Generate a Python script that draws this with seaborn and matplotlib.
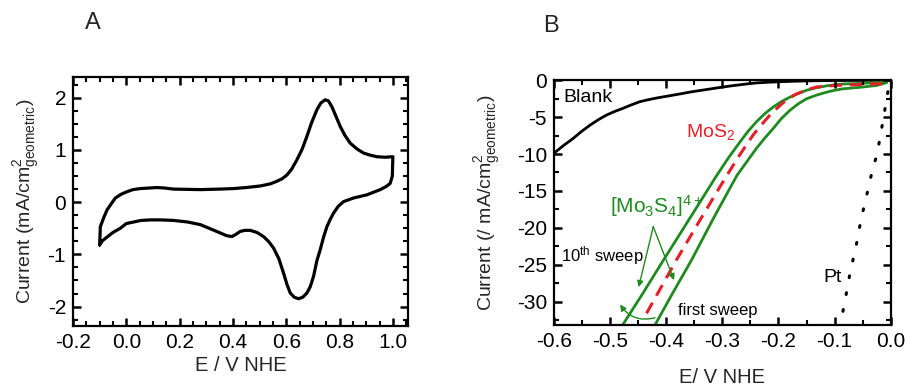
import matplotlib
matplotlib.use("Agg")
import matplotlib.pyplot as plt
import seaborn as sns
from matplotlib.ticker import MultipleLocator

# panel A: cyclic voltammogram (anodic branch, then cathodic branch)
cv_up_e = [-0.1, -0.0975, -0.085, -0.0725, -0.055, -0.041, -0.02, 0.0025, 0.025, 0.0525, 0.085, 0.115,
           0.145, 0.1775, 0.2775, 0.35, 0.4025, 0.45, 0.5025, 0.54, 0.565, 0.585, 0.6025, 0.62, 0.64,
           0.66, 0.6775, 0.695, 0.715, 0.73, 0.746, 0.758, 0.771, 0.786, 0.8025, 0.82, 0.84, 0.865,
           0.89, 0.915, 0.94, 0.97, 1.0]
cv_up_i = [-0.82, -0.47, -0.3, -0.15, -0.02, 0.08, 0.15, 0.20, 0.24, 0.26, 0.27, 0.28,
           0.27, 0.25, 0.24, 0.25, 0.26, 0.28, 0.31, 0.35, 0.40, 0.45, 0.52, 0.63, 0.81,
           1.02, 1.26, 1.52, 1.77, 1.90, 1.96, 1.94, 1.83, 1.65, 1.45, 1.28, 1.13, 1.02,
           0.94, 0.90, 0.87, 0.86, 0.87]
cv_down_e = [1.0, 0.998, 0.99, 0.975, 0.9525, 0.9025, 0.8525, 0.815, 0.795, 0.7775, 0.765, 0.7525,
             0.74, 0.7275, 0.715, 0.7025, 0.69, 0.6775, 0.662, 0.646, 0.63, 0.615, 0.603, 0.59,
             0.572, 0.5525, 0.535, 0.515, 0.49, 0.465, 0.445, 0.4275, 0.41, 0.396, 0.375, 0.3525,
             0.32, 0.2775, 0.23, 0.1775, 0.13, 0.09, 0.055, 0.0275, 0.0, -0.0225, -0.05, -0.0725,
             -0.09, -0.1]
cv_down_i = [0.87, 0.50, 0.36, 0.30, 0.24, 0.14, 0.08, 0.01, -0.08, -0.21, -0.33, -0.47,
             -0.67, -0.91, -1.12, -1.42, -1.62, -1.74, -1.82, -1.85, -1.82, -1.74, -1.58, -1.36,
             -1.08, -0.88, -0.76, -0.66, -0.58, -0.54, -0.54, -0.56, -0.62, -0.66, -0.64, -0.59,
             -0.52, -0.43, -0.38, -0.35, -0.34, -0.34, -0.35, -0.38, -0.41, -0.50, -0.58, -0.67,
             -0.74, -0.82]

# panel B: polarisation curves
blank_e = [-0.6, -0.583, -0.566, -0.551, -0.536, -0.521, -0.506, -0.491, -0.477, -0.462, -0.447,
           -0.432, -0.417, -0.402, -0.387, -0.372, -0.358, -0.343, -0.328, -0.313, -0.298,
           -0.283, -0.268, -0.254, -0.239, -0.22, -0.2, -0.175, -0.15, -0.125, -0.1, -0.05, 0.0]
blank_i = [-9.9, -8.85, -7.9, -6.95, -6.1, -5.35, -4.7, -4.2, -3.8, -3.33, -2.9,
           -2.63, -2.4, -2.2, -2.0, -1.8, -1.6, -1.42, -1.25, -1.07, -0.9,
           -0.74, -0.6, -0.47, -0.35, -0.27, -0.2, -0.13, -0.08, -0.05, -0.03, -0.01, 0.0]

sweep10_e = [-0.481, -0.44, -0.405, -0.357, -0.310, -0.289, -0.268, -0.254, -0.239, -0.224, -0.209,
             -0.195, -0.180, -0.165, -0.150, -0.132, -0.114, -0.1, -0.085, -0.055, -0.025, -0.007]
sweep10_i = [-33.6, -28.7, -24.4, -18.6, -12.9, -10.5, -8.3, -6.9, -5.6, -4.5, -3.6,
             -2.9, -2.3, -1.8, -1.35, -1.0, -0.75, -0.6, -0.5, -0.42, -0.3, -0.2]

sweep1_e = [-0.423, -0.388, -0.355, -0.315, -0.274, -0.256, -0.239, -0.224, -0.209, -0.195,
            -0.180, -0.165, -0.150, -0.132, -0.114, -0.1, -0.085, -0.055, -0.025, -0.007]
sweep1_i = [-33.6, -28.8, -24.4, -18.6, -12.9, -11.0, -9.2, -7.8, -6.5, -5.2,
            -4.1, -3.2, -2.5, -2.0, -1.6, -1.35, -1.15, -0.95, -0.7, -0.3]

mos2_e = [-0.435, -0.41, -0.382, -0.337, -0.292, -0.268, -0.245, -0.23, -0.215, -0.2, -0.185,
          -0.168, -0.150, -0.132, -0.1, -0.05, -0.014]
mos2_i = [-31.6, -28.2, -24.4, -18.6, -12.9, -10.0, -7.4, -6.0, -4.7, -3.6, -2.6,
          -1.85, -1.3, -0.9, -0.7, -0.55, -0.45]

pt_e = [-0.091, -0.081, -0.072, -0.062, -0.053, -0.042, -0.033, -0.024, -0.015, -0.006, -0.003]
pt_i = [-33.6, -29.7, -25.9, -22.6, -18.9, -15.3, -12.3, -9.9, -6.0, -2.0, -0.5]

green = "#1f8a1f"
red = "#e6202a"

sns.set_style("ticks")
plt.rcParams['font.family'] = ['Liberation Sans', 'DejaVu Sans']
plt.rcParams['mathtext.fontset'] = 'custom'
plt.rcParams['mathtext.rm'] = 'Liberation Sans'
plt.rcParams['mathtext.it'] = 'Liberation Sans:italic'
plt.rcParams['mathtext.bf'] = 'Liberation Sans:bold'
plt.rcParams['mathtext.default'] = 'regular'
plt.rcParams['axes.axisbelow'] = False
for k in ("xtick", "ytick"):
    plt.rcParams[k + ".direction"] = "in"
    plt.rcParams[k + ".color"] = "black"
    plt.rcParams[k + ".major.size"] = 6
    plt.rcParams[k + ".major.width"] = 1.8
    plt.rcParams[k + ".minor.size"] = 3.5
    plt.rcParams[k + ".minor.width"] = 1.5
    plt.rcParams[k + ".labelsize"] = 15
    plt.rcParams[k + ".major.pad"] = 5
plt.rcParams["xtick.top"] = True
plt.rcParams["ytick.right"] = True

fig = plt.figure(figsize=(9.08, 3.88), dpi=100)
axA = fig.add_axes([0.0804, 0.160, 0.369, 0.642])
axB = fig.add_axes([0.610, 0.162, 0.371, 0.631])


def style_axes(ax, xminor, yminor):
    ax.xaxis.set_minor_locator(MultipleLocator(xminor))
    ax.yaxis.set_minor_locator(MultipleLocator(yminor))
    for s in ax.spines.values():
        s.set_linewidth(1.6)
        s.set_color("black")
    ax.tick_params(which="both", direction="in", top=True, right=True)


# --- panel A
cv_e = cv_up_e + cv_down_e
cv_i = cv_up_i + cv_down_i
sns.lineplot(x=cv_e, y=cv_i, sort=False, estimator=None, color="black", lw=2.3, ax=axA)
axA.set_xlim(-0.2, 1.057)
axA.set_ylim(-2.37, 2.4)
axA.set_xticks([-0.2, 0.0, 0.2, 0.4, 0.6, 0.8, 1.0])
axA.set_xticklabels(["-0.2", "0.0", "0.2", "0.4", "0.6", "0.8", "1.0"])
axA.set_yticks([-2, -1, 0, 1, 2])
axA.set_yticklabels(["-2", "-1", "0", "1", "2"])
axA.set_xlabel("E / V NHE", fontsize=14.5, labelpad=3)
axA.set_ylabel("Current (mA/cm$^2_{geometric}$)", fontsize=14, labelpad=4)
style_axes(axA, 0.05, 0.25)

# --- panel B
sns.lineplot(x=blank_e, y=blank_i, sort=False, estimator=None, color="black", lw=2.0, ax=axB)
sns.lineplot(x=sweep10_e, y=sweep10_i, sort=False, estimator=None, color=green, lw=2.0, ax=axB)
sns.lineplot(x=sweep1_e, y=sweep1_i, sort=False, estimator=None, color=green, lw=2.0, ax=axB)
sns.lineplot(x=mos2_e, y=mos2_i, sort=False, estimator=None, color=red, lw=2.2, ax=axB)
axB.lines[-1].set_dashes([4, 2.6])
sns.lineplot(x=pt_e, y=pt_i, sort=False, estimator=None, color="black", lw=2.2, ax=axB)
axB.lines[-1].set_dashes([0.6, 5])
axB.lines[-1].set_dash_capstyle("round")

axB.set_xlim(-0.6, 0.0)
axB.set_ylim(-33.2, 0)
axB.set_xticks([-0.6, -0.5, -0.4, -0.3, -0.2, -0.1, 0.0])
axB.set_xticklabels(["-0.6", "-0.5", "-0.4", "-0.3", "-0.2", "-0.1", "0.0"])
axB.set_yticks([0, -5, -10, -15, -20, -25, -30])
axB.set_yticklabels(["0", "-5", "-10", "-15", "-20", "-25", "-30"])
axB.set_xlabel("E/ V NHE", fontsize=14.5, labelpad=12)
axB.set_ylabel("Current (/ mA/cm$^2_{geometric}$)", fontsize=14, labelpad=10)
style_axes(axB, 0.05, 2.5)

axB.text(-0.583, -2.94, "Blank", fontsize=14, color="black")
axB.text(-0.365, -7.67, "MoS$_2$", fontsize=14, color=red)
axB.text(-0.500, -17.9, "[Mo$_3$S$_4$]$^{4+}$", fontsize=15, color=green)
axB.text(-0.588, -24.6, "10$^{th}$ sweep", fontsize=12, color="black")
axB.text(-0.379, -31.8, "first sweep", fontsize=12, color="black")
axB.text(-0.120, -27.3, "Pt", fontsize=14, color="black")

arrow = dict(arrowstyle="-|>", color=green, lw=1.0, mutation_scale=9, shrinkA=0, shrinkB=0)
axB.annotate("", xy=(-0.449, -28.05), xytext=(-0.423, -19.85), arrowprops=arrow)
axB.annotate("", xy=(-0.386, -27.1), xytext=(-0.423, -19.85), arrowprops=arrow)
axB.annotate("", xy=(-0.482, -30.4), xytext=(-0.42, -32.2),
             arrowprops=dict(arrow, connectionstyle="arc3,rad=-0.35"))

fig.text(0.102, 0.941, "A", fontsize=17, ha="center", va="center")
fig.text(0.607, 0.933, "B", fontsize=17, ha="center", va="center")

fig.savefig("out.png", dpi=100)
